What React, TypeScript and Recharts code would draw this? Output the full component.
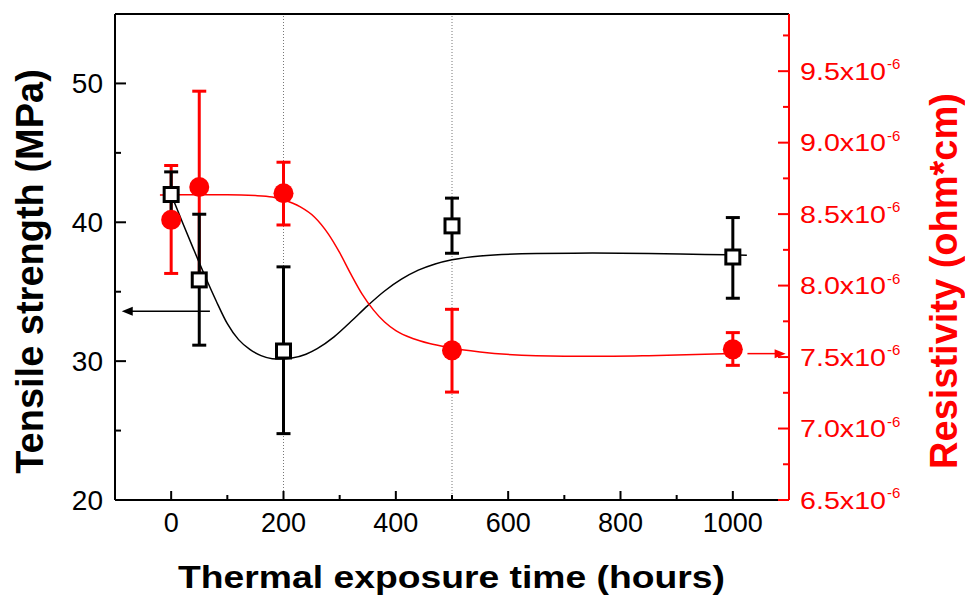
import React from 'react';
import {
  ComposedChart,
  Line,
  Scatter,
  ErrorBar,
  XAxis,
  YAxis,
  ReferenceLine,
} from 'recharts';

// measured points (hours)
const hours = [0, 50, 200, 500, 1000];
const tensile = [42.0, 35.85, 30.73, 39.74, 37.5];
const tensileLow = [40.3, 31.15, 24.78, 37.77, 34.53];
const tensileHigh = [43.63, 40.58, 36.79, 41.74, 40.34];
// resistivity in units of 1e-6 ohm*cm
const resistivity = [8.46, 8.69, 8.646, 7.547, 7.554];
const resistivityLow = [8.085, 8.03, 8.424, 7.255, 7.442];
const resistivityHigh = [8.84, 9.36, 8.863, 7.834, 7.671];

// fitted curves
const tensileFitX = [0, 20, 40, 60, 80, 100, 120, 140, 160, 180, 195, 215, 240, 260, 290, 320, 350, 380, 410, 440, 470, 500, 550, 650, 750, 850, 950, 1025];
const tensileFitY = [42.0, 40.0, 38.05, 36.15, 34.35, 32.7, 31.55, 30.85, 30.4, 30.18, 30.15, 30.22, 30.5, 30.9, 31.75, 32.85, 34.0, 35.05, 35.9, 36.55, 37.0, 37.3, 37.58, 37.75, 37.78, 37.75, 37.68, 37.63];
const resistFitX = [-20, 50, 100, 150, 180, 200, 230, 255, 280, 300, 320, 340, 360, 380, 400, 430, 460, 490, 550, 650, 750, 850, 1000];
const resistFitY = [8.634, 8.635, 8.635, 8.63, 8.62, 8.6, 8.55, 8.48, 8.36, 8.23, 8.08, 7.94, 7.83, 7.745, 7.685, 7.63, 7.595, 7.57, 7.535, 7.51, 7.505, 7.51, 7.525];

// axis ticks
const xTicks = [0, 100, 200, 300, 400, 500, 600, 700, 800, 900, 1000];
const xLabels = [0, 200, 400, 600, 800, 1000];
const leftTicks = [20, 25, 30, 35, 40, 45, 50];
const leftLabels = [20, 30, 40, 50];
const rightTicks = [6.5, 6.75, 7.0, 7.25, 7.5, 7.75, 8.0, 8.25, 8.5, 8.75, 9.0, 9.25, 9.5, 9.75];
const rightLabels = [6.5, 7.0, 7.5, 8.0, 8.5, 9.0, 9.5];
const guideLines = [200, 500];

// axis-pointer arrows
const tensileArrow = [{ x: 69, y: 33.6 }, { x: -88, y: 33.6 }];
const resistArrow = [{ x: 1026, y: 7.524 }, { x: 1094, y: 7.524 }];

const FONT = '"Liberation Sans", Arial, sans-serif';
const RED = '#ff0000';

const tensileData = hours.map((x, i) => ({
  x,
  v: tensile[i],
  err: [tensile[i] - tensileLow[i], tensileHigh[i] - tensile[i]],
}));
const resistData = hours.map((x, i) => ({
  x,
  v: resistivity[i],
  err: [resistivity[i] - resistivityLow[i], resistivityHigh[i] - resistivity[i]],
}));
const tensileFit = tensileFitX.map((x, i) => ({ x, v: tensileFitY[i] }));
const resistFit = resistFitX.map((x, i) => ({ x, v: resistFitY[i] }));

const XTick = (props: any) => {
  const { x, y, payload } = props;
  const major = xLabels.includes(payload.value);
  return (
    <g>
      <line x1={x} y1={y} x2={x} y2={y - (major ? 9 : 5)} stroke="#000" strokeWidth={2} />
      {major && (
        <text x={x} y={y + 32} textAnchor="middle" fontSize={27} fontFamily={FONT} fill="#000">
          {payload.value}
        </text>
      )}
    </g>
  );
};

const LeftTick = (props: any) => {
  const { x, y, payload } = props;
  const major = leftLabels.includes(payload.value);
  return (
    <g>
      <line x1={x} y1={y} x2={x + (major ? 11 : 6)} y2={y} stroke="#000" strokeWidth={2} />
      {major && (
        <text x={x - 12} y={y + 9.5} textAnchor="end" fontSize={28} fontFamily={FONT} fill="#000">
          {payload.value}
        </text>
      )}
    </g>
  );
};

const RightTick = (props: any) => {
  const { x, y, payload } = props;
  const major = rightLabels.includes(payload.value);
  return (
    <g>
      <line x1={x} y1={y} x2={x - (major ? 11 : 6)} y2={y} stroke={RED} strokeWidth={2} />
      {major && (
        <g fill={RED} fontFamily={FONT}>
          <text x={x + 11} y={y + 8.5} fontSize={23} textLength={86} lengthAdjust="spacingAndGlyphs">
            {payload.value.toFixed(1)}x10
          </text>
          <text x={x + 98} y={y - 2} fontSize={15}>
            -6
          </text>
        </g>
      )}
    </g>
  );
};

const Square = (props: any) => {
  const { cx, cy } = props;
  return <rect x={cx - 7} y={cy - 7} width={14} height={14} fill="#fff" stroke="#000" strokeWidth={3} />;
};

const Dot = (props: any) => {
  const { cx, cy } = props;
  return <circle cx={cx} cy={cy} r={10} fill={RED} />;
};

const arrowShape = (color: string) => (props: any) => {
  const { x1, y1, x2, y2 } = props;
  const dir = x2 > x1 ? 1 : -1;
  return (
    <g>
      <line x1={x1} y1={y1} x2={x2 - dir * 8} y2={y2} stroke={color} strokeWidth={1.5} />
      <path d={`M${x2},${y2} L${x2 - dir * 11},${y2 - 4.5} L${x2 - dir * 11},${y2 + 4.5} Z`} fill={color} />
    </g>
  );
};

export default function App() {
  return (
    <div style={{ position: 'absolute', left: 0, top: 0 }}>
      <ComposedChart width={965} height={597} margin={{ top: 14, right: 0, bottom: 0, left: 0 }}>
        <XAxis
          type="number"
          dataKey="x"
          domain={[-100, 1100]}
          allowDataOverflow
          ticks={xTicks}
          tick={<XTick />}
          tickLine={false}
          tickSize={0}
          tickMargin={0}
          height={97}
          axisLine={{ stroke: '#000', strokeWidth: 2 }}
          label={() => (
            <text
              x={451.5}
              y={588}
              textAnchor="middle"
              fontSize={32}
              fontWeight="bold"
              fontFamily={FONT}
              textLength={547}
              lengthAdjust="spacingAndGlyphs"
            >
              Thermal exposure time (hours)
            </text>
          )}
        />
        <YAxis
          yAxisId="left"
          domain={[20, 55]}
          allowDataOverflow
          ticks={leftTicks}
          tick={<LeftTick />}
          tickLine={false}
          tickSize={0}
          tickMargin={0}
          width={115}
          axisLine={{ stroke: '#000', strokeWidth: 2 }}
          label={() => (
            <text
              transform="translate(43,271.5) rotate(-90)"
              textAnchor="middle"
              fontSize={38}
              fontWeight="bold"
              fontFamily={FONT}
            >
              Tensile strength (MPa)
            </text>
          )}
        />
        <YAxis
          yAxisId="right"
          orientation="right"
          domain={[6.5, 9.9]}
          allowDataOverflow
          ticks={rightTicks}
          tick={<RightTick />}
          tickLine={false}
          tickSize={0}
          tickMargin={0}
          width={176}
          axisLine={{ stroke: RED, strokeWidth: 2 }}
          label={() => (
            <text
              transform="translate(957,281) rotate(-90)"
              textAnchor="middle"
              fontSize={38}
              fontWeight="bold"
              fontFamily={FONT}
              fill={RED}
            >
              Resistivity (ohm*cm)
            </text>
          )}
        />

        <ReferenceLine yAxisId="left" y={55} stroke="#000" strokeWidth={2} />
        {guideLines.map((g) => (
          <ReferenceLine key={g} yAxisId="left" x={g} stroke="#777" strokeWidth={1} strokeDasharray="1 2" />
        ))}

        <Scatter yAxisId="right" data={resistData} dataKey="v" shape={<Dot />} isAnimationActive={false}>
          <ErrorBar dataKey="err" direction="y" width={7} stroke={RED} strokeWidth={3} isAnimationActive={false} />
        </Scatter>
        <Scatter yAxisId="left" data={tensileData} dataKey="v" shape={<Square />} isAnimationActive={false}>
          <ErrorBar dataKey="err" direction="y" width={7} stroke="#000" strokeWidth={3} isAnimationActive={false} />
        </Scatter>
        <Line
          yAxisId="left"
          data={tensileFit}
          dataKey="v"
          type="monotone"
          stroke="#000"
          strokeWidth={1.5}
          dot={false}
          activeDot={false}
          isAnimationActive={false}
        />
        <Line
          yAxisId="right"
          data={resistFit}
          dataKey="v"
          type="monotone"
          stroke={RED}
          strokeWidth={1.5}
          dot={false}
          activeDot={false}
          isAnimationActive={false}
        />

        <ReferenceLine yAxisId="left" segment={tensileArrow} ifOverflow="visible" shape={arrowShape('#000')} />
        <ReferenceLine yAxisId="right" segment={resistArrow} ifOverflow="visible" shape={arrowShape(RED)} />
      </ComposedChart>
    </div>
  );
}
